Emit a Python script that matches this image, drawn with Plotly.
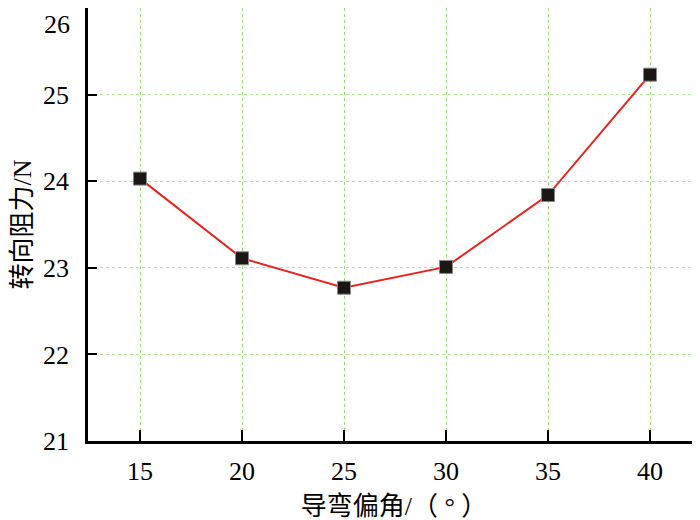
import plotly.graph_objects as go

# data
angle = [15, 20, 25, 30, 35, 40]
resistance = [24.03, 23.11, 22.77, 23.01, 23.84, 25.23]

x_ticks = [15, 20, 25, 30, 35, 40]
y_ticks = [21, 22, 23, 24, 25, 26]
# top label sits right at the page edge, so it is drawn separately a little lower
y_ticktext = [str(v) for v in y_ticks[:-1]] + [""]

font_family = "Liberation Serif, Times New Roman, Noto Sans CJK SC, serif"

fig = go.Figure()
fig.add_trace(go.Scatter(
    x=angle,
    y=resistance,
    mode="lines+markers",
    line=dict(color="#e8231f", width=2),
    marker=dict(symbol="square", size=13, color="#1a1714",
                line=dict(color="#888888", width=1)),
    showlegend=False,
))

fig.update_xaxes(
    range=[12.45, 42.45],
    tickvals=x_ticks,
    ticks="inside", ticklen=11, tickwidth=2, tickcolor="black",
    showline=True, linecolor="black", linewidth=2.5,
    showgrid=True, gridcolor="#9ad77a", griddash="dot", gridwidth=1,
    zeroline=False, automargin=False, ticklabelstandoff=5,
    tickfont=dict(size=26, color="black"),
    title=dict(text="导弯偏角/（ ° ）", font=dict(size=26, color="black"), standoff=12),
)
fig.update_yaxes(
    range=[21, 26],
    tickvals=y_ticks, ticktext=y_ticktext,
    ticks="inside", ticklen=9, tickwidth=2, tickcolor="black",
    showline=True, linecolor="black", linewidth=2.5,
    showgrid=True, gridcolor="#b5e39c", griddash="dot", gridwidth=1,
    zeroline=False, automargin=False,
    ticklabelstandoff=11,
    tickfont=dict(size=26, color="black"),
    title=dict(text="转向阻力/N", font=dict(size=26, color="black"), standoff=8),
)

fig.add_annotation(
    text=str(y_ticks[-1]), xref="paper", x=0, y=y_ticks[-1],
    xanchor="right", yanchor="top", xshift=-16, yshift=0,
    showarrow=False, font=dict(size=26, color="black"),
)

# the page puts the plot 8px in from the top-left, so margins make up for it
fig.update_layout(
    width=700, height=520,
    margin=dict(l=80, r=8, t=0, b=87),
    plot_bgcolor="white", paper_bgcolor="white",
    font=dict(family=font_family, color="black"),
)

fig.write_html("out.html")
